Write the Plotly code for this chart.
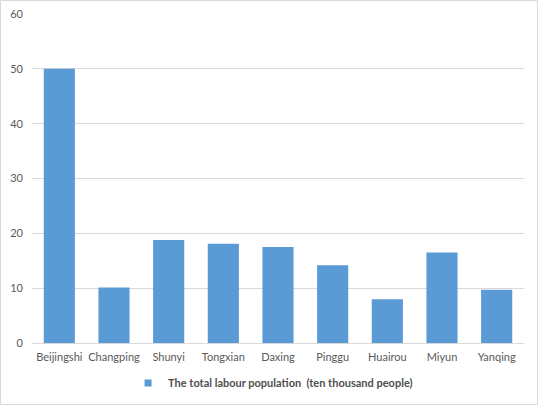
import plotly.graph_objects as go

districts = ["Beijingshi", "Changping", "Shunyi", "Tongxian", "Daxing",
             "Pinggu", "Huairou", "Miyun", "Yanqing"]
labour = [50.0, 10.1, 18.8, 18.1, 17.5, 14.2, 8.0, 16.5, 9.7]
y_ticks = [0, 10, 20, 30, 40, 50, 60]
series_name = "The total labour population  (ten thousand people)"

W, H = 538, 405
L, R, T, B = 32, 14, 14, 62
pw, ph = W - L - R, H - T - B
bar_color = "#5B9BD5"

fig = go.Figure()
fig.add_trace(go.Bar(
    x=districts,
    y=labour,
    name=series_name,
    marker=dict(color=bar_color, line=dict(width=0)),
    showlegend=False,
))
# small square legend key, like Excel's
fig.add_trace(go.Scatter(
    x=[None], y=[None], mode="markers", name=series_name,
    marker=dict(symbol="square", size=7, color=bar_color),
))

# outer chart border like the Excel chart area
fig.add_shape(
    type="rect", xref="paper", yref="paper",
    x0=(0.5 - L) / pw, x1=(W - 0.5 - L) / pw,
    y0=(T + ph - (H - 0.5)) / ph, y1=(T + ph - 0.5) / ph,
    line=dict(color="#D9D9D9", width=1), layer="below",
)

fig.update_layout(
    width=W, height=H,
    margin=dict(l=L, r=R, t=T, b=B, autoexpand=False),
    paper_bgcolor="white",
    plot_bgcolor="white",
    font=dict(family="Lato, 'Open Sans', sans-serif", size=11, color="#595959"),
    bargap=0.43,
    showlegend=True,
    legend=dict(
        orientation="h", x=0.49, xanchor="center",
        yref="container", y=1 - 383 / H, yanchor="middle",
        font=dict(size=11, color="#505050", weight="bold"),
        itemwidth=30,
    ),
    xaxis=dict(
        showgrid=False, showline=True, linecolor="#D9D9D9", linewidth=1,
        ticks="", tickfont=dict(size=11), ticklabelstandoff=4,
        fixedrange=True,
    ),
    yaxis=dict(
        range=[0, 60], tickvals=y_ticks, showgrid=True, gridcolor="#D9D9D9",
        gridwidth=1, zeroline=False, showline=False, ticks="",
        ticklabelstandoff=8, tickfont=dict(size=11), fixedrange=True,
    ),
)

# page body has a default 8px margin; drop it so the chart fills the window
fig.write_html(
    "out.html",
    config={"displayModeBar": False},
    post_script="document.body.style.margin='0';",
)
